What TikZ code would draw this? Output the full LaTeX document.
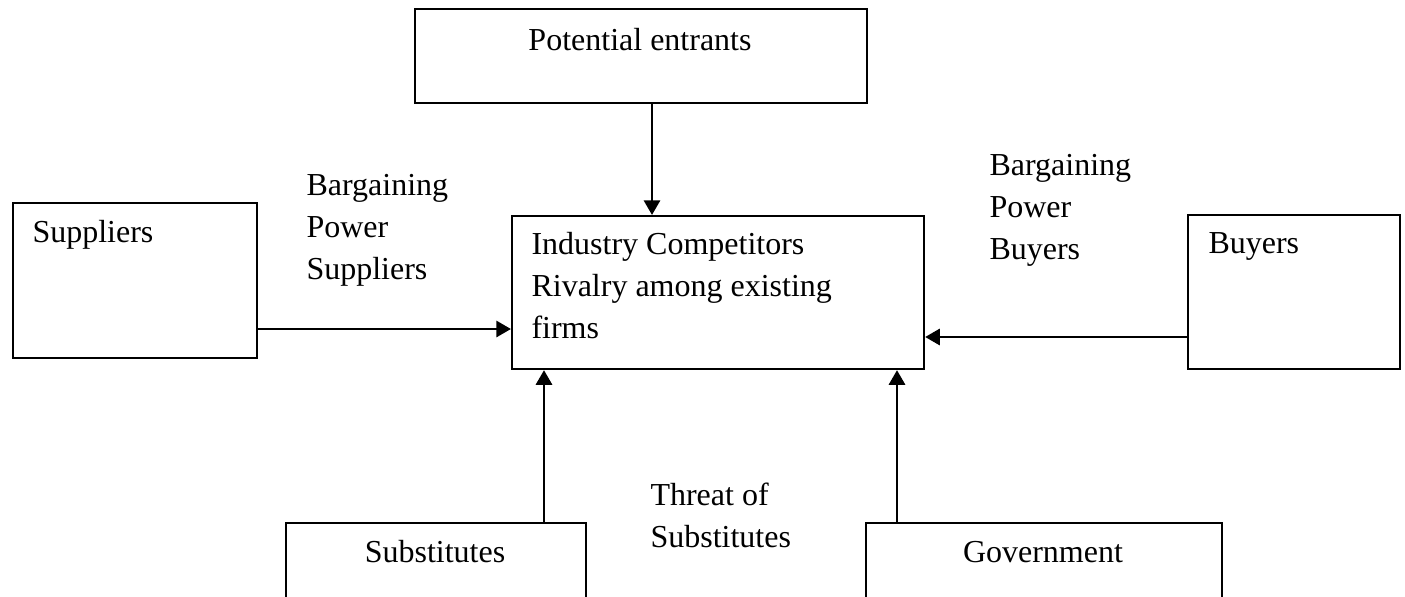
\documentclass[tikz,border=0pt]{standalone}
\usepackage{fontspec}
\setmainfont{Liberation Serif}
\usetikzlibrary{arrows.meta}
\begin{document}
\begin{tikzpicture}[x=0.375pt,y=-0.375pt,
  box/.style={draw, line width=0.8pt, inner sep=0pt, anchor=north west},
  txt/.style={font=\fontsize{12}{15.75}\selectfont, inner sep=0pt},
  conn/.style={line width=1.1pt, -{Triangle[length=5.5pt,width=6pt]}}]
\clip (0,0) rectangle (1405,597);
% boxes
\node[box, minimum width=169.5pt, minimum height=35.25pt] (pot) at (414,8) {};
\node[box, minimum width=154.5pt, minimum height=57.375pt] (ind) at (511,215) {};
\node[box, minimum width=91.5pt, minimum height=58.125pt] (sup) at (12,202) {};
\node[box, minimum width=79.5pt, minimum height=57.75pt] (buy) at (1187,214) {};
\node[box, minimum width=112.5pt, minimum height=44.25pt] (sub) at (285,522) {};
\node[box, minimum width=133.5pt, minimum height=44.25pt] (gov) at (865,522) {};
% box texts
\node[txt, anchor=base] (tpot) at (640,50) {Potential entrants};
\node[txt, anchor=base west, align=left] (tind) at (531,338) {Industry Competitors\\Rivalry among existing\\firms};
\node[txt, anchor=base west] (tsup) at (32,242) {Suppliers};
\node[txt, anchor=base west] (tbuy) at (1208,253) {Buyers};
\node[txt, anchor=base] (tsub) at (435,562) {Substitutes};
\node[txt, anchor=base] (tgov) at (1043,562) {Government};
% labels
\node[txt, anchor=base west, align=left] (lsup) at (306,279) {Bargaining\\Power\\Suppliers};
\node[txt, anchor=base west, align=left] (lbuy) at (989,259) {Bargaining\\Power\\Buyers};
\node[txt, anchor=base west, align=left] (lsub) at (650,547) {Threat of\\Substitutes};
% connectors
\coordinate (p1) at ([xshift=89.25pt]pot.south west);
\coordinate (s1) at ([yshift=-47.625pt]sup.north east);
\coordinate (b1) at ([yshift=-46.125pt]buy.north west);
\coordinate (u1) at ([xshift=97.125pt]sub.north west);
\coordinate (g1) at ([xshift=12pt]gov.north west);
\draw[conn] (p1) -- (p1 |- ind.north);
\draw[conn] (s1) -- (s1 -| ind.west);
\draw[conn] (b1) -- (b1 -| ind.east);
\draw[conn] (u1) -- (u1 |- ind.south);
\draw[conn] (g1) -- (g1 |- ind.south);
\end{tikzpicture}
\end{document}
